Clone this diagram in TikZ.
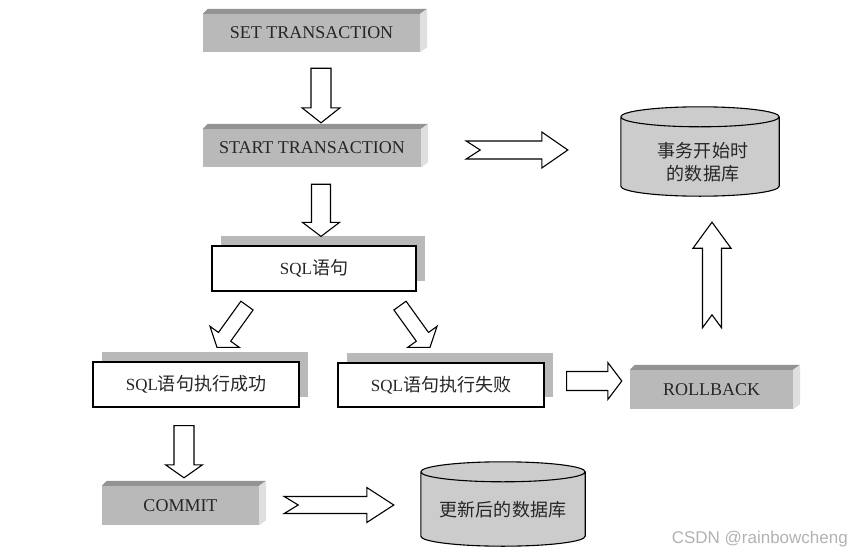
\documentclass[tikz,border=0pt]{standalone}
\usepackage{fontspec}
\setmainfont{Liberation Serif}
\newfontfamily\cjk[Scale=1.06]{Noto Sans CJK SC}
\newfontfamily\wmfont{Liberation Sans}
\usetikzlibrary{calc,shadows}

% block arrow: from, to, shaft half width, head half width, head length, notch
\newcommand{\blockarrow}[6]{%
  \draw[blockarrow] let \p1=($(#2)-(#1)$), \n1={atan2(\y1,\x1)}, \n2={veclen(\x1,\y1)}, \n3={\n2-#5} in
    [shift={(#1)}, rotate=\n1] (#6pt,0pt) -- (0pt,#3pt) -- (\n3,#3pt) -- (\n3,#4pt) -- (\n2,0pt)
    -- (\n3,-#4pt) -- (\n3,-#3pt) -- (0pt,-#3pt) -- cycle;}
\newcommand{\slabfaces}[1]{%
  \fill[slabtop] (#1.north west) -- ++(5pt,5pt) -- ([shift={(7pt,5pt)}]#1.north east) -- (#1.north east) -- cycle;
  \fill[slabside] (#1.north east) -- ++(7pt,5pt) -- ([shift={(7pt,5pt)}]#1.south east) -- (#1.south east) -- cycle;}
\newcommand{\dbshape}[1]{%
  \path[dbbody] let \p1=(#1.north west), \p2=(#1.north east), \n1={(\x2-\x1)/2} in
    (#1.north west) -- (#1.south west) arc[start angle=180, end angle=360, x radius=\n1, y radius=10pt]
    -- (#1.north east) arc[start angle=0, end angle=180, x radius=\n1, y radius=10pt] -- cycle
    (#1.north west) arc[start angle=180, end angle=360, x radius=\n1, y radius=10pt];}

\begin{document}
\begin{tikzpicture}[x=1pt, y=-1pt,
    slab/.style={fill=gray!55, inner sep=0pt, text=black!85, font=\fontsize{18}{21}\selectfont},
    slabtop/.style={fill=gray!85},
    slabside/.style={fill=gray!25},
    stmt/.style={draw, line width=1.2pt, fill=white, inner sep=0pt, text=black!85,
      font=\fontsize{17}{20}\selectfont,
      drop shadow={shadow xshift=9pt, shadow yshift=10pt, fill=gray!55, opacity=1}},
    dbtext/.style={inner sep=0pt, align=center, text=black!85, font=\cjk\fontsize{17}{23}\selectfont},
    dbbody/.style={draw, line width=1.1pt, fill=gray!40},
    blockarrow/.style={line width=1.1pt, fill=white, line join=miter}]
    \useasboundingbox (0,0) rectangle (863,557);

    \node[slab, minimum width=217pt, minimum height=38pt] (set) at (311.5,33) {SET TRANSACTION};
    \node[slab, minimum width=218pt, minimum height=38pt] (start) at (312,148) {START TRANSACTION};
    \node[slab, minimum width=163pt, minimum height=39pt] (rollback) at (711.5,389.5) {ROLLBACK};
    \node[slab, minimum width=157pt, minimum height=39pt] (commit) at (180.5,505.5) {COMMIT};
    \slabfaces{set}
    \slabfaces{start}
    \slabfaces{rollback}
    \slabfaces{commit}

    \node[stmt, minimum width=204pt, minimum height=45pt] (sql) at (314,268.5) {SQL{\cjk 语句}};
    \node[stmt, minimum width=206pt, minimum height=45pt] (ok) at (196,384.5) {SQL{\cjk 语句执行成功}};
    \node[stmt, minimum width=206pt, minimum height=44pt] (fail) at (441,385) {SQL{\cjk 语句执行失败}};

    \node[dbtext, minimum width=158pt, minimum height=69pt] (db1) at (700,151.5) {};
    \node[dbtext, minimum width=164pt, minimum height=64pt] (db2) at (503,504) {};
    \dbshape{db1}
    \dbshape{db2}
    \node[dbtext] at ([shift={(3pt,-11pt)}]db1) {事务开始时\\的数据库};
    \node[dbtext] at ([yshift=-6pt]db2) {更新后的数据库};

    \coordinate (a1s) at ([shift={(9.5pt,-16pt)}]set.south);
    \coordinate (a1e) at ([shift={(9pt,6pt)}]start.north);
    \coordinate (a2s) at ([shift={(9pt,-17pt)}]start.south);
    \coordinate (a2e) at ([shift={(7pt,9pt)}]sql.north);
    \coordinate (a3s) at ([shift={(45pt,-2pt)}]start.east);
    \coordinate (a3e) at ([shift={(-53pt,1.5pt)}]db1.west);
    \coordinate (a4s) at ([shift={(0.5pt,42pt)}]rollback.north);
    \coordinate (a4e) at ([shift={(12pt,-36pt)}]db1.south);
    \coordinate (a5s) at ([shift={(-67pt,-14pt)}]sql.south);
    \coordinate (a5e) at ([shift={(21pt,14pt)}]ok.north);
    \coordinate (a6s) at ([shift={(86pt,-14pt)}]sql.south);
    \coordinate (a6e) at ([shift={(-11pt,15pt)}]fail.north);
    \coordinate (a7s) at ([shift={(22pt,4pt)}]fail.east);
    \coordinate (a7e) at ([shift={(-8pt,8.5pt)}]rollback.west);
    \coordinate (a8s) at ([shift={(-12pt,-18pt)}]ok.south);
    \coordinate (a8e) at ([shift={(3.5pt,8pt)}]commit.north);
    \coordinate (a9s) at ([shift={(25pt,0.5pt)}]commit.east);
    \coordinate (a9e) at ([shift={(-27pt,-1pt)}]db2.west);

    \blockarrow{a1s}{a1e}{10}{19}{15}{0}
    \blockarrow{a2s}{a2e}{9.5}{18.5}{14}{0}
    \blockarrow{a3s}{a3e}{9}{18}{26}{14}
    \blockarrow{a4s}{a4e}{9.5}{19}{26}{13}
    \blockarrow{a5s}{a5e}{7.5}{18}{13}{0}
    \blockarrow{a6s}{a6e}{7.5}{18}{13}{0}
    \blockarrow{a7s}{a7e}{9.5}{18.5}{14}{0}
    \blockarrow{a8s}{a8e}{10}{18.5}{13}{0}
    \blockarrow{a9s}{a9e}{8.5}{17.5}{27}{14}

    \node[anchor=east, inner sep=0pt, text=gray!60, font=\wmfont\fontsize{17}{20}\selectfont] (wm) at (848,539) {CSDN @rainbowcheng};
\end{tikzpicture}
\end{document}
